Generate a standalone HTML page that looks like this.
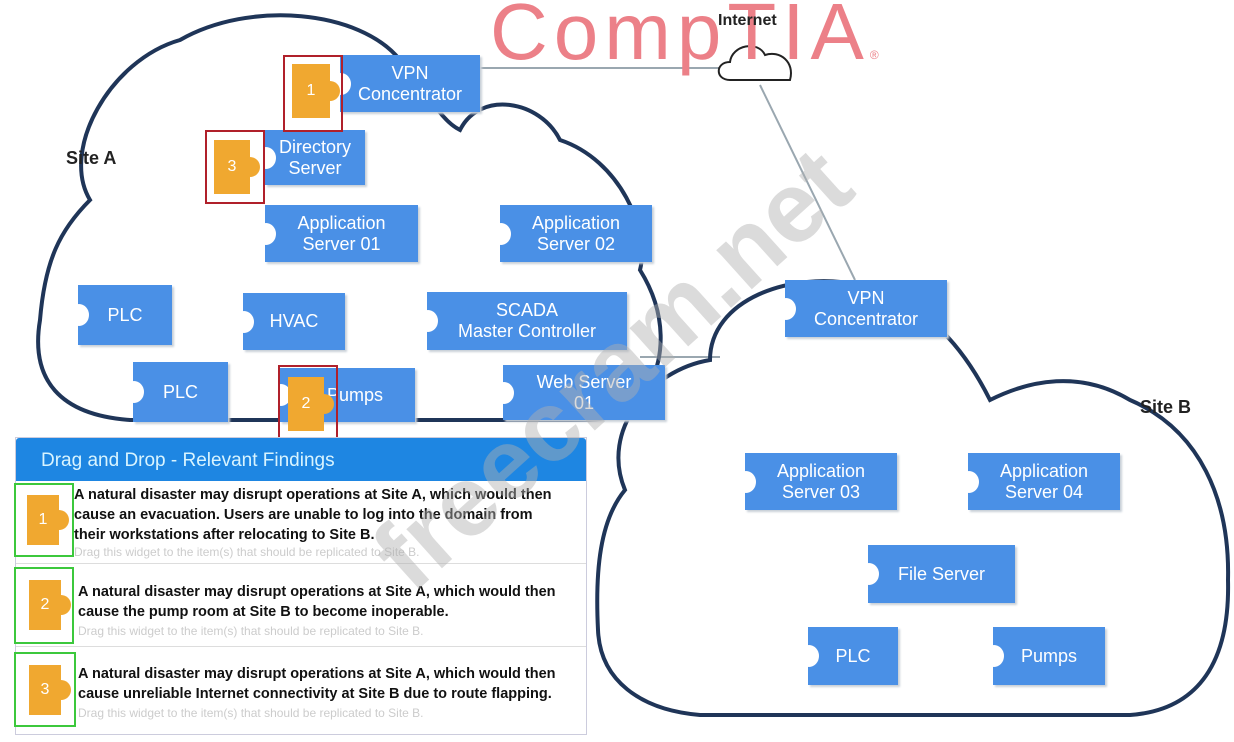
<!DOCTYPE html>
<html><head><meta charset="utf-8"><style>
body{margin:0;width:1234px;height:742px;background:#fff;position:relative;overflow:hidden;font-family:"Liberation Sans",sans-serif}
.b{position:absolute;background:#4a90e6;color:#fff;font-size:18px;line-height:21px;display:flex;align-items:center;justify-content:center;text-align:center;box-shadow:2px 2px 2px #c8d0d8}
.b:before{content:"";position:absolute;left:-9px;top:50%;margin-top:-11px;width:20px;height:22px;border-radius:50%;background:#fff}
.o{position:absolute;background:#f0a830;color:#fff;font-size:16px;display:flex;align-items:center;justify-content:center}
.o:after{content:"";position:absolute;right:-10px;top:50%;margin-top:-10px;width:20px;height:20px;border-radius:50%;background:#f0a830}
.r{position:absolute;border:2px solid #b0202a}
.g{position:absolute;border:2px solid #3cc83c}
.t{position:absolute;left:74px;font-size:14.5px;font-weight:bold;line-height:20px;color:#111}
.d{position:absolute;left:74px;font-size:12px;color:#ccc}
</style></head><body>
<svg width="1234" height="742" style="position:absolute;left:0;top:0">
<g fill="none" stroke="#9aa7b0" stroke-width="2">
<line x1="480" y1="68" x2="728" y2="68"/><line x1="760" y1="85" x2="855" y2="280"/>
<line x1="640" y1="357" x2="720" y2="357"/>
</g>
<g fill="none" stroke="#1f3558" stroke-width="4">
<path d="M130 420 C60 415 30 380 40 320 C45 260 60 230 90 200 C60 150 110 60 180 40 C250 0 360 10 400 60 C430 95 440 120 460 130 C480 90 540 100 560 140 C620 160 650 230 640 270 C665 310 670 360 640 400 C620 420 600 420 570 420 Z"/>
<path d="M700 715 C640 710 600 680 598 630 C595 570 600 520 625 490 C600 430 650 370 710 360 C710 300 790 270 860 285 C920 300 960 340 990 400 C1030 380 1080 370 1130 400 C1200 430 1230 500 1228 580 C1230 660 1200 710 1130 715 Z"/>
</g>
<path d="M730 80 C715 80 715 62 730 62 C732 45 758 40 765 55 C780 50 795 62 790 80 Z" fill="#fff" stroke="#222" stroke-width="2"/>
</svg>
<div style="position:absolute;left:490px;top:-14px;font-size:80px;color:#ec8088;letter-spacing:6px">CompTIA<span style="font-size:12px">®</span></div>
<div style="position:absolute;left:718px;top:12px;font-size:16px;font-weight:bold;color:#222">Internet</div>
<div style="position:absolute;left:66px;top:148px;font-size:18px;font-weight:bold;color:#222">Site A</div>
<div style="position:absolute;left:1140px;top:397px;font-size:18px;font-weight:bold;color:#222">Site B</div>

<div class="b" style="left:340px;top:55px;width:140px;height:57px">VPN<br>Concentrator</div>
<div class="b" style="left:265px;top:130px;width:100px;height:55px">Directory<br>Server</div>
<div class="b" style="left:265px;top:205px;width:153px;height:57px">Application<br>Server 01</div>
<div class="b" style="left:500px;top:205px;width:152px;height:57px">Application<br>Server 02</div>
<div class="b" style="left:78px;top:285px;width:94px;height:60px">PLC</div>
<div class="b" style="left:243px;top:293px;width:102px;height:57px">HVAC</div>
<div class="b" style="left:427px;top:292px;width:200px;height:58px">SCADA<br>Master Controller</div>
<div class="b" style="left:133px;top:362px;width:95px;height:60px">PLC</div>
<div class="b" style="left:280px;top:368px;width:135px;height:54px">&nbsp;&nbsp;&nbsp;Pumps</div>
<div class="b" style="left:503px;top:365px;width:162px;height:55px">Web Server<br>01</div>
<div class="b" style="left:785px;top:280px;width:162px;height:57px">VPN<br>Concentrator</div>
<div class="b" style="left:745px;top:453px;width:152px;height:57px">Application<br>Server 03</div>
<div class="b" style="left:968px;top:453px;width:152px;height:57px">Application<br>Server 04</div>
<div class="b" style="left:868px;top:545px;width:147px;height:58px">File Server</div>
<div class="b" style="left:808px;top:627px;width:90px;height:58px">PLC</div>
<div class="b" style="left:993px;top:627px;width:112px;height:58px">Pumps</div>

<div class="o" style="left:292px;top:64px;width:38px;height:54px">1</div><div class="r" style="left:283px;top:55px;width:56px;height:73px"></div>
<div class="o" style="left:214px;top:140px;width:36px;height:54px">3</div><div class="r" style="left:205px;top:130px;width:56px;height:70px"></div>
<div class="o" style="left:288px;top:377px;width:36px;height:54px">2</div><div class="r" style="left:278px;top:365px;width:56px;height:73px"></div>

<div style="position:absolute;left:15px;top:437px;width:570px;height:296px;border:1px solid #ccd;background:#fff">
<div style="height:43px;background:#1e86e2;color:#d8f4ff;font-size:19px;line-height:45px;padding-left:25px;border-radius:3px 3px 0 0">Drag and Drop - Relevant Findings</div>
<div style="position:absolute;left:0;top:125px;width:570px;border-top:1px solid #ddd"></div>
<div style="position:absolute;left:0;top:208px;width:570px;border-top:1px solid #ddd"></div>
</div>
<div class="o" style="left:27px;top:495px;width:32px;height:50px">1</div><div class="g" style="left:14px;top:483px;width:56px;height:70px"></div>
<div class="o" style="left:29px;top:580px;width:32px;height:50px">2</div><div class="g" style="left:14px;top:567px;width:56px;height:73px"></div>
<div class="o" style="left:29px;top:665px;width:32px;height:50px">3</div><div class="g" style="left:14px;top:652px;width:58px;height:71px"></div>
<div class="t" style="top:485px">A natural disaster may disrupt operations at Site A, which would then<br>cause an evacuation. Users are unable to log into the domain from<br>their workstations after relocating to Site B.</div>
<div class="d" style="top:545px">Drag this widget to the item(s) that should be replicated to Site B.</div>
<div class="t" style="top:582px;left:78px">A natural disaster may disrupt operations at Site A, which would then<br>cause the pump room at Site B to become inoperable.</div>
<div class="d" style="top:624px;left:78px">Drag this widget to the item(s) that should be replicated to Site B.</div>
<div class="t" style="top:664px;left:78px">A natural disaster may disrupt operations at Site A, which would then<br>cause unreliable Internet connectivity at Site B due to route flapping.</div>
<div class="d" style="top:706px;left:78px">Drag this widget to the item(s) that should be replicated to Site B.</div>
<svg width="1234" height="742" style="position:absolute;left:0;top:0;pointer-events:none">
<g transform="translate(615,372) rotate(-42)"><text x="0" y="30" text-anchor="middle" font-family="Liberation Sans" font-weight="bold" font-size="100" fill="#b0b0b0" opacity="0.45">freecram.net</text></g>
</svg>
</body></html>
